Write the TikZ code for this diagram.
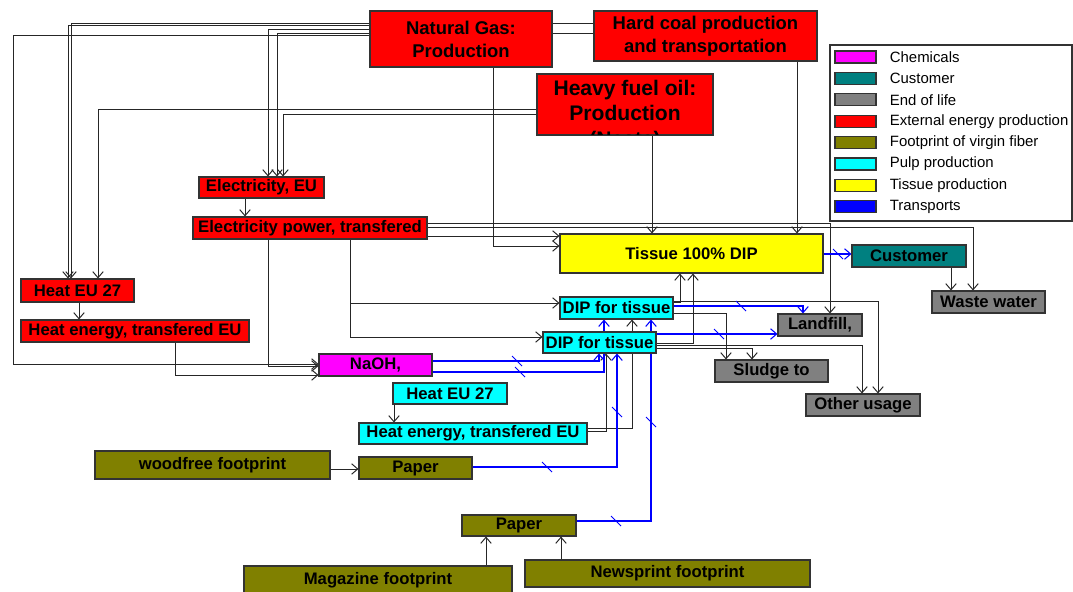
\documentclass[tikz,border=0pt]{standalone}
\usepackage{fontspec}
\setmainfont{Liberation Sans}
\usepackage{xcolor}
\usepackage{tikz}
\usetikzlibrary{arrows.meta,positioning,fit,backgrounds}
\definecolor{extred}{HTML}{FF0000}
\definecolor{pulpcyan}{HTML}{00FFFF}
\definecolor{tissyellow}{HTML}{FFFF00}
\definecolor{virgolive}{HTML}{808000}
\definecolor{eolgray}{HTML}{808080}
\definecolor{custteal}{HTML}{008080}
\definecolor{chemmag}{HTML}{FF00FF}
\definecolor{transblue}{HTML}{0000FF}

\begin{document}
\begin{tikzpicture}[x=0.02cm,y=-0.02cm,
  box/.style={draw=black!80,line width=0.6pt,inner sep=0pt},
  every label/.style={inner sep=0pt,align=center,font=\bfseries\fontsize{9.5}{11}\selectfont},
  big/.style={font=\bfseries\fontsize{10.5}{13}\selectfont},
  link/.style={draw=black!85,line width=0.55pt,-{Straight Barb[length=3.5pt,width=6pt]}},
  flow/.style={draw=transblue,line width=0.6pt,-{Straight Barb[length=3.5pt,width=6pt]}},
  tick/.style={draw=transblue,line width=0.6pt},
  swatch/.style={draw=black!80,line width=0.6pt,minimum width=0.82cm,minimum height=0.24cm,inner sep=0pt},
  legtext/.style={font=\fontsize{8.5}{10}\selectfont,inner sep=0pt}]
\useasboundingbox (0,0) rectangle (1073,592);

% external energy
\node[box,fill=extred,fit={(370,11) (552,67)},label={[big]center:{Natural Gas:\\Production}}] (ng) {};
\node[box,fill=extred,fit={(594,11) (817,61)},label={[big]center:{Hard coal production\\and transportation}}] (hc) {};
\node[box,fill=extred,fit={(537,74) (713,135)}] (hfo) {};
\node[box,fill=extred,fit={(199,177) (324,198)},label=center:{Electricity, EU}] (eleu) {};
\node[box,fill=extred,fit={(193,217) (427,239)},label=center:{Electricity power, transfered}] (elpow) {};
\node[box,fill=extred,fit={(21,279) (134,302)},label=center:{Heat EU 27}] (heatr) {};
\node[box,fill=extred,fit={(21,320) (249,342)},label=center:{Heat energy, transfered EU}] (heatenr) {};
\node[box,fill=chemmag,fit={(319,354) (432,376)},label=center:{NaOH,}] (naoh) {};
% tissue line
\node[box,fill=tissyellow,fit={(560,234) (823,273)},label=center:{Tissue 100\% DIP}] (tissue) {};
\node[box,fill=custteal,fit={(852,245) (966,267)},label=center:{Customer}] (cust) {};
\node[box,fill=pulpcyan,fit={(560,297) (673,319)},label=center:{DIP for tissue}] (dipa) {};
\node[box,fill=pulpcyan,fit={(543,332) (656,353)},label=center:{DIP for tissue}] (dipb) {};
\node[box,fill=pulpcyan,fit={(393,383) (507,404)},label=center:{Heat EU 27}] (heatc) {};
\node[box,fill=pulpcyan,fit={(359,423) (587,444)},label=center:{Heat energy, transfered EU}] (heatenc) {};
% end of life
\node[box,fill=eolgray,fit={(932,291) (1045,313)},label=center:{Waste water}] (waste) {};
\node[box,fill=eolgray,fit={(778,314) (862,336)},label=center:{Landfill,}] (landfill) {};
\node[box,fill=eolgray,fit={(715,360) (828,382)},label=center:{Sludge to}] (sludge) {};
\node[box,fill=eolgray,fit={(806,394) (920,416)},label=center:{Other usage}] (other) {};
% fibre footprints
\node[box,fill=virgolive,fit={(95,451) (330,479)},label=center:{woodfree footprint}] (woodfree) {};
\node[box,fill=virgolive,fit={(359,457) (472,479)},label=center:{Paper}] (paperw) {};
\node[box,fill=virgolive,fit={(462,515) (576,536)},label=center:{Paper}] (paperm) {};
\node[box,fill=virgolive,fit={(244,566) (512,594)},label=center:{Magazine footprint}] (magazine) {};
\node[box,fill=virgolive,fit={(525,560) (810,587)},label=center:{Newsprint footprint}] (newsprint) {};

\begin{scope}
  \clip (hfo.south west) rectangle (hfo.north east);
  \node[font=\bfseries\fontsize{12}{14.4}\selectfont,align=center,anchor=north,inner sep=0pt] (hfotext) at (625,80) {Heavy fuel oil:\\Production\\(Neste)};
\end{scope}
\draw[draw=black!80,line width=0.6pt] (hfo.south west) rectangle (hfo.north east);

\begin{scope}[on background layer]
% energy links
\draw[link] (ng.west |- 0,25) -| (heatr.north -| 68,0);
\draw[link] (hc.west |- 0,23) -| (heatr.north -| 71,0);
\draw[link] (ng.west |- 0,29) -| (eleu.north -| 268,0);
\draw[link] (hc.west |- 0,33) -| (eleu.north -| 277,0);
\draw[link] (ng.west |- 0,35) -| (13,364) -- (naoh.west |- 0,364);
\draw[link] (hfo.west |- 0,109) -| (heatr.north -| 98,0);
\draw[link] (hfo.west |- 0,114) -| (eleu.north -| 283,0);
\draw[link] (ng.south -| 493,0) |- (tissue.west |- 0,246);
\draw[link] (hfo.south -| 652,0) -- (tissue.north -| 652,0);
\draw[link] (hc.south -| 797,0) -- (tissue.north -| 797,0);
\draw[link] (eleu.south -| 245,0) -- (elpow.north -| 245,0);
\draw[link] (elpow.east |- 0,223) -| (landfill.north -| 830,0);
\draw[link] (elpow.east |- 0,227) -| (waste.north -| 973,0);
\draw[link] (elpow.east |- 0,236) -- (tissue.west |- 0,236);
\draw[link] (elpow.south -| 268,0) |- (naoh.west |- 0,366);
\draw[link] (elpow.south -| 350,0) |- (dipa.west |- 0,303);
\draw[link] (elpow.south -| 350,0) |- (dipb.west |- 0,337);
\draw[link] (heatr.south -| 79,0) -- (heatenr.north -| 79,0);
\draw[link] (heatenr.south -| 175,0) |- (naoh.west |- 0,375);
\draw[link] (cust.south -| 951,0) -- (waste.north -| 951,0);
% tissue line and end of life
\draw[link] (dipa.east |- 0,302) -| (tissue.south -| 680,0);
\draw[link] (dipb.east |- 0,343) -| (tissue.south -| 693,0);
\draw[link] (dipa.east |- 0,301) -| (other.north -| 878,0);
\draw[link] (dipa.east |- 0,313) -| (sludge.north -| 726,0);
\draw[link] (dipb.east |- 0,345) -| (other.north -| 862,0);
\draw[link] (dipb.east |- 0,348) -| (sludge.north -| 752,0);
\draw[link] (heatenc.east |- 0,431) -| (dipb.south -| 606,0);
\draw[link] (heatenc.east |- 0,428) -| (dipa.south -| 632,0);
\draw[link] (heatc.south -| 394,0) -- (heatenc.north -| 394,0);
\draw[link] (woodfree.east |- 0,469) -- (paperw.west |- 0,469);
\draw[link] (magazine.north -| 486,0) -- (paperm.south -| 486,0);
\draw[link] (newsprint.north -| 561,0) -- (paperm.south -| 561,0);
% transports
\draw[flow] (tissue.east |- 0,254) -- (cust.west |- 0,254);
\draw[flow] (dipa.east |- 0,306) -| (landfill.north -| 803,0);
\draw[flow] (dipb.east |- 0,334) -- (landfill.west |- 0,334);
\draw[flow] (naoh.east |- 0,361) -| (dipb.south -| 599,0);
\draw[flow] (naoh.east |- 0,372) -| (dipa.south -| 604,0);
\draw[flow] (paperw.east |- 0,467) -| (dipb.south -| 617,0);
\draw[flow] (paperm.east |- 0,521) -| (dipa.south -| 651,0);
\foreach \p in {(838,254),(741,306),(719,334),(517,361),(520,372),(547,467),(617,412),(616,521),(651,422)}
  \draw[tick] \p ++(-5,-5) -- ++(10,10);
\end{scope}

% legend
\node[draw=black!80,fill=white,line width=0.6pt,inner sep=0pt,fit={(830,45) (1072,221)}] (legend) {};
\foreach \c/\t [count=\i from 0] in {chemmag/Chemicals,custteal/Customer,eolgray/End of life,extred/External energy production,virgolive/Footprint of virgin fiber,pulpcyan/Pulp production,tissyellow/Tissue production,transblue/Transports} {
  \node[swatch,fill=\c] (sw\i) at (855.5,{57+21.4*\i}) {};
  \node[legtext,right=0.26cm of sw\i] (lt\i) {\t};
}
\end{tikzpicture}
\end{document}
